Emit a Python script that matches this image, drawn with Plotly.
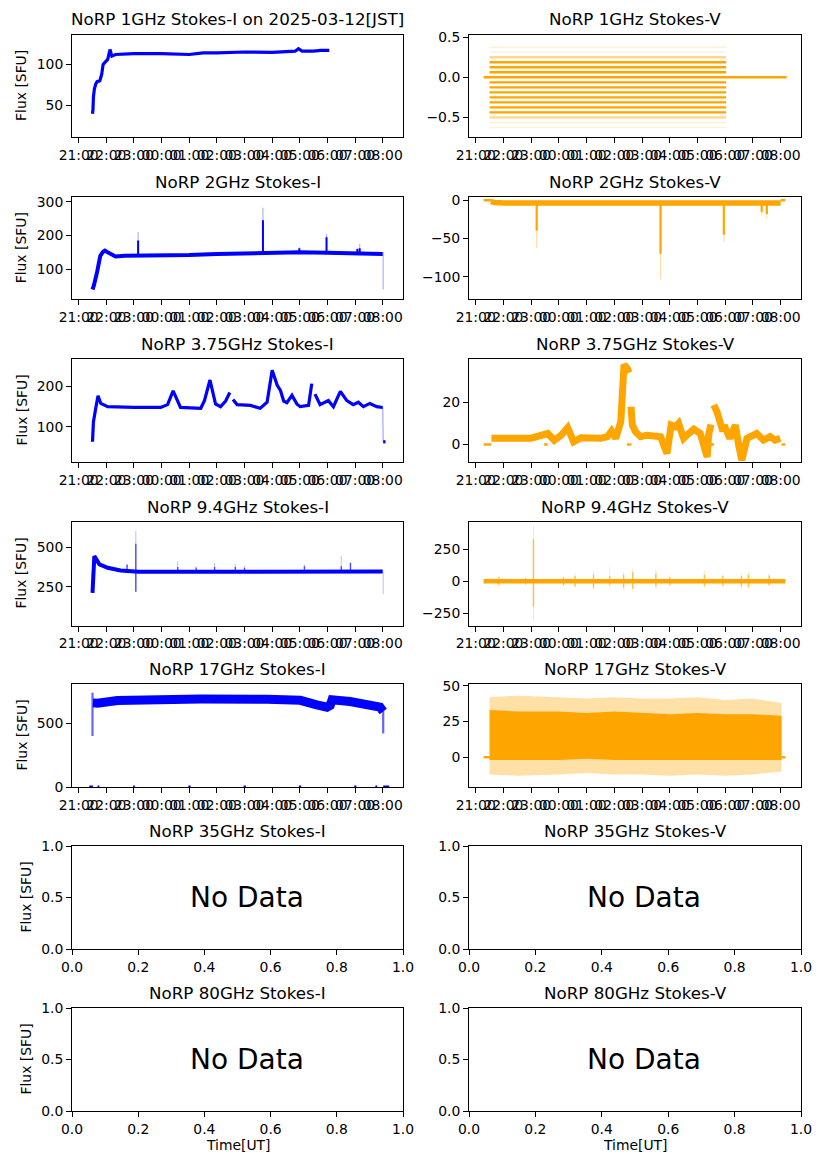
import plotly.graph_objects as go

# ---------------- data (times are UT "HH:MM"; >=12h is 2025-03-11, else 2025-03-12) ----------------
hour_ticks = ["21:00", "22:00", "23:00", "00:00", "01:00", "02:00", "03:00", "04:00",
              "05:00", "06:00", "07:00", "08:00"]

# 1 GHz Stokes-I
i1_t = ["21:30", "21:31", "21:32", "21:34", "21:37", "21:40", "21:46", "21:50", "21:53", "21:58",
        "22:03", "22:08", "22:12", "22:20", "23:00", "00:00", "01:00", "01:30", "02:00", "03:00",
        "04:00", "04:50", "04:57", "05:05", "05:30", "05:45", "06:04"]
i1_v = [40, 45, 60, 70, 76, 79, 80, 88, 100, 103, 106, 118, 110, 112, 113, 113, 112, 114, 114, 115,
        114.5, 116, 119, 116, 116, 117, 117]

# 1 GHz Stokes-V : quantised levels
v1_levels = [0.25, 0.1875, 0.125, 0.0625, -0.0625, -0.125, -0.1875, -0.25, -0.3125, -0.375,
             -0.4375, -0.5]
v1_level_alpha = [0.45, 1, 1, 1, 1, 1, 1, 1, 1, 1, 1, 0.45]
v1_start, v1_end = "21:30", "06:02"
v1_zero_t = ["21:17", "08:13"]
v1_faint_levels = [0.3125, 0.375, -0.5625, -0.625]

# 2 GHz Stokes-I
i2_t = ["21:30", "21:33", "21:40", "21:47", "21:53", "21:57", "22:03", "22:12", "22:20", "22:40",
        "23:00", "23:30", "00:00", "01:00", "02:00", "03:00", "04:00", "05:00", "06:00", "07:00",
        "07:30", "08:00"]
i2_v = [40, 52, 92, 140, 152, 155, 150, 142, 138, 140, 140, 140, 140, 142, 145, 147, 149, 150, 149,
        148, 148, 145]
i2_spk_t = ["23:09", "03:40", "04:59", "05:58", "07:05", "07:10", "08:01"]
i2_spk_lo = [145, 150, 150, 150, 150, 150, 40]
i2_spk_hi = [185, 245, 162, 195, 160, 162, 150]
i2_spk_faint = [210, 282, 165, 205, 162, 175, 150]

# 2 GHz Stokes-V
v2_t = ["21:33", "21:40", "22:00", "23:00", "01:00", "03:00", "05:00", "07:00", "08:00"]
v2_v = [-1.5, -3.0, -3.5, -3.5, -3.5, -3.5, -3.5, -3.5, -3.5]
v2_zero_a = ["21:17", "21:34"]
v2_zero_b = ["08:00", "08:10"]
v2_spk_t = ["23:12", "03:40", "05:57", "07:19", "07:30"]
v2_spk_lo = [-5, -5, -5, -5, -5]
v2_spk_hi = [-40, -70, -45, -15, -18]
v2_spk_faint = [-62, -103, -55, -20, -24]

# 3.75 GHz Stokes-I (three segments separated by small gaps)
i3_t = ["21:30", "21:32", "21:37", "21:42", "21:48", "22:03", "23:00", "23:58", "00:13", "00:25",
        "00:41", "01:25", "01:33", "01:45", "01:57", "02:08", "02:19", "02:28", None,
        "02:35", "02:44", "03:13", "03:34", "03:49", "04:00", "04:11", "04:18", "04:25", "04:32",
        "04:43", "04:54", "05:01", "05:19", "05:26", None,
        "05:33", "05:44", "06:02", "06:13", "06:28", "06:42", "06:56", "07:07", "07:18", "07:32",
        "07:47", "08:00"]
i3_v = [63, 112, 146, 177, 158, 150, 148, 148, 155, 189,
        148, 146, 165, 216, 157, 150, 164, 185, None,
        168, 155, 153, 146, 161, 240, 203, 190, 164, 160,
        178, 156, 150, 153, 207, None,
        181, 155, 165, 150, 188, 165, 155, 161, 150, 158,
        150, 148]
i3_drop_t = ["08:00", "08:01"]
i3_drop_v = [148, 62]
i3_tail_t = ["08:01", "08:06"]
i3_tail_v = [63, 63]

# 3.75 GHz Stokes-V
v3_t = ["21:34", "22:00", "23:00", "23:36", "23:50", "00:05", "00:19", "00:32", "00:48", "01:31",
        "01:45", "01:54", "02:03", "02:14", "02:21", "02:28", "02:32", None,
        "02:36", "02:39", "02:46", "02:57", "03:11", "03:40", "03:47", "03:54", "04:03", "04:12",
        "04:19", "04:30", "04:41", "04:52", "05:06", "05:21", "05:24", "05:29", None,
        "05:35", "05:42", "05:53", "06:00", "06:10", "06:22", "06:29", "06:36", "06:47", "06:58",
        "07:08", "07:23", "07:37", "07:48", "07:59"]
v3_v = [3, 3, 3, 5.2, 2, 4.4, 7.9, 1.3, 3.2, 2.9,
        3.7, 6.3, 2.9, 10.8, 37.8, 36, 34, None,
        17.9, 9.2, 6, 3.7, 4.4, 3.7, -0.3, -4.3, 9.2, 8.4,
        10, 2.9, 5.2, 7.3, 5.2, -5.9, 4.4, 9.5, None,
        18.7, 15.6, 7.6, 7.9, 2.9, 9.2, -0.3, -7.5, 2.9, 4.4,
        5.2, 2.1, 3.7, 2.1, 2.9]
v3_zero_t = ["21:17", "21:34", None, "23:28", "23:36", None, "02:27", "02:37", None,
             "05:28", "05:36", None, "08:02", "08:10"]

# 9.4 GHz Stokes-I
i9_t = ["21:30", "21:31", "21:34", "21:45", "22:03", "22:31", "23:00", "23:10", "01:00", "03:00",
        "05:00", "07:00", "08:00"]
i9_v = [212, 338, 443, 391, 370, 353, 349, 345, 345, 345, 345, 345, 347]
i9_spk_t = ["21:30", "22:45", "23:04", "00:35", "01:15", "01:55", "02:40", "03:00", "05:10",
            "06:30", "06:50", "08:01"]
i9_spk_lo = [212, 340, 220, 340, 340, 340, 340, 340, 340, 340, 340, 340]
i9_spk_hi = [338, 390, 520, 375, 370, 375, 375, 370, 380, 380, 400, 345]
i9_spk_faint = [338, 390, 600, 410, 380, 400, 395, 380, 390, 445, 405, 205]

# 9.4 GHz Stokes-V
v9_t = ["21:17", "08:10"]
v9_v = [0, 0]
v9_spk_t = ["21:50", "22:48", "23:05", "00:10", "00:35", "01:15", "01:50", "02:20", "02:40",
            "03:30", "04:00", "05:15", "05:55", "06:35", "06:50", "07:35"]
v9_spk_lo = [-30, -25, -200, -30, -40, -50, -30, -50, -60, -40, -30, -40, -35, -40, -45, -30]
v9_spk_hi = [30, 25, 330, 30, 40, 50, 40, 50, 70, 60, 30, 50, 40, 40, 50, 45]
v9_spk_flo = [-45, -30, -310, -40, -50, -70, -50, -70, -85, -60, -45, -50, -50, -60, -60, -40]
v9_spk_fhi = [40, 35, 440, 40, 60, 80, 110, 70, 100, 95, 50, 80, 55, 60, 75, 60]

# 17 GHz Stokes-I
i17_t = ["21:31", "21:41", "22:24", "23:30", "01:25", "03:49", "05:01", "05:37", "05:59", "06:06",
         "06:10", "06:49", "07:25", "07:54", "08:01"]
i17_v = [660, 658, 679, 686, 690, 688, 680, 645, 626, 640, 684, 671, 653, 626, 592]
i17_spk_t = ["21:30", "08:01"]
i17_spk_lo = [400, 420]
i17_spk_hi = [740, 600]
i17_zero_start = ["21:23", "21:41", "22:58", "00:58", "02:58", "04:58", "06:58", "07:44", "08:01"]
i17_zero_end = ["21:31", "21:45", "23:02", "01:03", "03:03", "05:03", "07:03", "07:48", "08:14"]

# 17 GHz Stokes-V (envelopes)
v17_t = ["21:30", "22:30", "00:00", "01:00", "02:00", "03:00", "04:00", "05:00", "06:00", "07:00",
         "08:02"]
v17_core_hi = [33, 32, 32, 31, 32, 31, 30, 31, 30, 30, 29]
v17_core_lo = [-2, -2, -2, -1, -2, -2, -2, -2, -2, -2, -2]
v17_faint_hi = [42, 43, 42, 41, 42, 41, 41, 42, 40, 41, 38]
v17_faint_lo = [-12, -13, -12, -11, -12, -12, -13, -12, -13, -12, -10]
v17_zero_a = ["21:17", "21:31"]
v17_zero_b = ["08:02", "08:10"]

titles_left = ["NoRP 1GHz Stokes-I on 2025-03-12[JST]", "NoRP 2GHz Stokes-I", "NoRP 3.75GHz Stokes-I",
               "NoRP 9.4GHz Stokes-I", "NoRP 17GHz Stokes-I", "NoRP 35GHz Stokes-I",
               "NoRP 80GHz Stokes-I"]
titles_right = ["NoRP 1GHz Stokes-V", "NoRP 2GHz Stokes-V", "NoRP 3.75GHz Stokes-V",
                "NoRP 9.4GHz Stokes-V", "NoRP 17GHz Stokes-V", "NoRP 35GHz Stokes-V",
                "NoRP 80GHz Stokes-V"]

yranges_left = [[11.3, 136.3], [11, 313], [13, 268], [8, 660], [0, 808], [0, 1], [0, 1]]
yranges_right = [[-0.748, 0.534], [-129.6, 3.9], [-8.3, 40.5], [-348, 468], [-20.8, 51.2],
                 [0, 1], [0, 1]]
yticks_left = [[50, 100], [100, 200, 300], [100, 200], [250, 500], [0, 500],
               [0, 0.5, 1], [0, 0.5, 1]]
yticks_right = [[-0.5, 0.0, 0.5], [-100, -50, 0], [0, 20], [-250, 0, 250], [0, 25, 50],
                [0, 0.5, 1], [0, 0.5, 1]]
ytext_left = [["50", "100"], ["100", "200", "300"], ["100", "200"], ["250", "500"], ["0", "500"],
              ["0.0", "0.5", "1.0"], ["0.0", "0.5", "1.0"]]
ytext_right = [["\u22120.5", "0.0", "0.5"], ["\u2212100", "\u221250", "0"], ["0", "20"],
               ["\u2212250", "0", "250"], ["0", "25", "50"],
               ["0.0", "0.5", "1.0"], ["0.0", "0.5", "1.0"]]
nodata_ticks = [0, 0.2, 0.4, 0.6, 0.8, 1.0]
nodata_text = ["0.0", "0.2", "0.4", "0.6", "0.8", "1.0"]
nodata_pos = (0.35, 0.5)   # axes-fraction position of the "No Data" text (left-aligned)


def T(hm):
    if hm is None:
        return None
    h = int(hm.split(":")[0])
    day = "2025-03-11" if h >= 12 else "2025-03-12"
    return f"{day} {hm}:00"


def TL(lst):
    return [T(s) for s in lst]


def spikes(ts, lo, hi):
    xs, ys = [], []
    for t, a, b in zip(ts, lo, hi):
        xs += [T(t), T(t), None]
        ys += [a, b, None]
    return xs, ys


BLUE = "#0000ff"
ORANGE = "#ffa500"
FONT = "DejaVu Sans"
W, H = 827, 1169

xdom_l = [72 / W, 403 / W]
xdom_r = [469 / W, 801 / W]
rows_px = [(34.5, 137.3), (197.3, 299.3), (359, 462), (521.5, 625.5), (684, 787), (846, 949),
           (1008, 1111)]

fig = go.Figure()


def axid(r, c):
    return (r - 1) * 2 + c


def line(r, c, x, y, color, width, opacity=1.0):
    n = axid(r, c)
    fig.add_trace(go.Scatter(x=x, y=y, mode="lines", line=dict(color=color, width=width),
                             opacity=opacity, showlegend=False, hoverinfo="skip",
                             connectgaps=False, xaxis=f"x{n}", yaxis=f"y{n}"))


# Row 1
line(1, 1, TL(i1_t), i1_v, BLUE, 3.2)
for lev, a in zip(v1_levels, v1_level_alpha):
    line(1, 2, [T(v1_start), T(v1_end)], [lev, lev], ORANGE, 2.4, a)
for lev in v1_faint_levels:
    line(1, 2, [T(v1_start), T(v1_end)], [lev, lev], ORANGE, 1.5, 0.15)
line(1, 2, TL(v1_zero_t), [0, 0], ORANGE, 2.4)

# Row 2
sx, sy = spikes(i2_spk_t, i2_spk_lo, i2_spk_faint)
line(2, 1, sx, sy, BLUE, 1.2, 0.3)
sx, sy = spikes(i2_spk_t[:-1], i2_spk_lo[:-1], i2_spk_hi[:-1])
line(2, 1, sx, sy, BLUE, 2.0)
line(2, 1, TL(i2_t), i2_v, BLUE, 4)
sx, sy = spikes(v2_spk_t, v2_spk_lo, v2_spk_faint)
line(2, 2, sx, sy, ORANGE, 1.2, 0.35)
sx, sy = spikes(v2_spk_t, v2_spk_lo, v2_spk_hi)
line(2, 2, sx, sy, ORANGE, 2.2)
line(2, 2, TL(v2_t), v2_v, ORANGE, 5.5)
line(2, 2, TL(v2_zero_a), [0, 0], ORANGE, 2.4)
line(2, 2, TL(v2_zero_b), [0, 0], ORANGE, 2.4)

# Row 3
line(3, 1, TL(i3_t), i3_v, BLUE, 3.2)
line(3, 1, TL(i3_drop_t), i3_drop_v, BLUE, 1.2, 0.35)
line(3, 1, TL(i3_tail_t), i3_tail_v, BLUE, 3.2)
line(3, 2, TL(v3_t), v3_v, ORANGE, 7)
line(3, 2, TL(v3_zero_t), [0 if s else None for s in v3_zero_t], ORANGE, 2.4)

# Row 4
sx, sy = spikes(i9_spk_t, i9_spk_lo, i9_spk_faint)
line(4, 1, sx, sy, BLUE, 1.0, 0.25)
sx, sy = spikes(i9_spk_t[:-1], i9_spk_lo[:-1], i9_spk_hi[:-1])
line(4, 1, sx, sy, BLUE, 1.5, 0.6)
line(4, 1, TL(i9_t), i9_v, BLUE, 4)
sx, sy = spikes(v9_spk_t, v9_spk_flo, v9_spk_fhi)
line(4, 2, sx, sy, ORANGE, 1.0, 0.25)
sx, sy = spikes(v9_spk_t, v9_spk_lo, v9_spk_hi)
line(4, 2, sx, sy, ORANGE, 1.5, 0.6)
line(4, 2, TL(v9_t), v9_v, ORANGE, 4.5)

# Row 5
sx, sy = spikes(i17_spk_t, i17_spk_lo, i17_spk_hi)
line(5, 1, sx, sy, BLUE, 2.2, 0.6)
line(5, 1, TL(i17_t), i17_v, BLUE, 9)
zx, zy = [], []
for a, b in zip(i17_zero_start, i17_zero_end):
    zx += [T(a), T(b), None]
    zy += [0, 0, None]
line(5, 1, zx, zy, BLUE, 3)

n5 = axid(5, 2)
fig.add_trace(go.Scatter(x=TL(v17_t), y=v17_faint_lo, mode="lines", line=dict(width=0),
                         showlegend=False, hoverinfo="skip", xaxis=f"x{n5}", yaxis=f"y{n5}"))
fig.add_trace(go.Scatter(x=TL(v17_t), y=v17_faint_hi, mode="lines", line=dict(width=0),
                         fill="tonexty", fillcolor="rgba(255,165,0,0.35)",
                         showlegend=False, hoverinfo="skip", xaxis=f"x{n5}", yaxis=f"y{n5}"))
fig.add_trace(go.Scatter(x=TL(v17_t), y=v17_core_lo, mode="lines", line=dict(width=0),
                         showlegend=False, hoverinfo="skip", xaxis=f"x{n5}", yaxis=f"y{n5}"))
fig.add_trace(go.Scatter(x=TL(v17_t), y=v17_core_hi, mode="lines", line=dict(width=0),
                         fill="tonexty", fillcolor=ORANGE,
                         showlegend=False, hoverinfo="skip", xaxis=f"x{n5}", yaxis=f"y{n5}"))
line(5, 2, TL(v17_zero_a), [0, 0], ORANGE, 2.4)
line(5, 2, TL(v17_zero_b), [0, 0], ORANGE, 2.4)

# empty (no data) panels: invisible placeholder so the axes get drawn
for r in (6, 7):
    for c in (1, 2):
        n = axid(r, c)
        fig.add_trace(go.Scatter(x=[None], y=[None], mode="markers", showlegend=False,
                                 hoverinfo="skip", xaxis=f"x{n}", yaxis=f"y{n}"))

# ---------------- axes ----------------
xr = ["2025-03-11 20:45:30", T("08:44")]
axis_common = dict(showline=True, mirror=True, linecolor="black", linewidth=1, ticks="outside",
                   ticklen=5, tickwidth=1, tickcolor="black", showgrid=False, zeroline=False,
                   automargin=False, tickfont=dict(family=FONT, size=13.9, color="black"))

layout_axes = {}
for r in range(1, 8):
    y0 = 1 - rows_px[r - 1][1] / H
    y1 = 1 - rows_px[r - 1][0] / H
    for c in (1, 2):
        n = axid(r, c)
        xd = xdom_l if c == 1 else xdom_r
        yr = yranges_left[r - 1] if c == 1 else yranges_right[r - 1]
        yt = yticks_left[r - 1] if c == 1 else yticks_right[r - 1]
        ytt = ytext_left[r - 1] if c == 1 else ytext_right[r - 1]
        xname = "xaxis" if n == 1 else f"xaxis{n}"
        yname = "yaxis" if n == 1 else f"yaxis{n}"
        if r <= 5:
            xa = dict(domain=xd, type="date", range=xr, tickvals=TL(hour_ticks),
                      ticktext=hour_ticks, tickangle=0, anchor=f"y{n}", **axis_common)
        else:
            xa = dict(domain=xd, type="linear", range=[0, 1], tickvals=nodata_ticks,
                      ticktext=nodata_text, tickangle=0, anchor=f"y{n}", **axis_common)
        ya = dict(domain=[y0, y1], range=yr, tickvals=yt, ticktext=ytt, anchor=f"x{n}",
                  **axis_common)
        layout_axes[xname] = xa
        layout_axes[yname] = ya

annotations = []
for r in range(1, 8):
    top = 1 - rows_px[r - 1][0] / H
    mid = 1 - (rows_px[r - 1][0] + rows_px[r - 1][1]) / 2 / H
    for c, titles in ((1, titles_left), (2, titles_right)):
        xd = xdom_l if c == 1 else xdom_r
        n = axid(r, c)
        annotations.append(dict(text=titles[r - 1], x=(xd[0] + xd[1]) / 2, y=top, xref="paper",
                                yref="paper", xanchor="center", yanchor="bottom", yshift=3,
                                showarrow=False, font=dict(family=FONT, size=16.7, color="black")))
        if r >= 6:
            annotations.append(dict(text="No Data", x=nodata_pos[0], y=nodata_pos[1],
                                    xref=f"x{n}", yref=f"y{n}", xanchor="left",
                                    yanchor="middle", showarrow=False,
                                    font=dict(family=FONT, size=28, color="black")))
    lab_x = 21 / W if r <= 5 else 25 / W
    annotations.append(dict(text="Flux [SFU]", x=lab_x, y=mid, xref="paper", yref="paper",
                            xanchor="center", yanchor="middle", textangle=-90, showarrow=False,
                            font=dict(family=FONT, size=13.9, color="black")))

for xd in (xdom_l, xdom_r):
    annotations.append(dict(text="Time[UT]", x=(xd[0] + xd[1]) / 2, y=1 - 1145 / H,
                            xref="paper", yref="paper", xanchor="center", yanchor="middle",
                            showarrow=False, font=dict(family=FONT, size=13.9, color="black")))

fig.update_layout(width=W, height=H, margin=dict(l=0, r=0, t=0, b=0, autoexpand=False),
                  paper_bgcolor="white", plot_bgcolor="white", annotations=annotations,
                  showlegend=False, font=dict(family=FONT, color="black"), **layout_axes)

fig.write_html("out.html", config={"displayModeBar": False},
               post_script="document.body.style.margin='0';document.body.style.overflow='hidden';")
